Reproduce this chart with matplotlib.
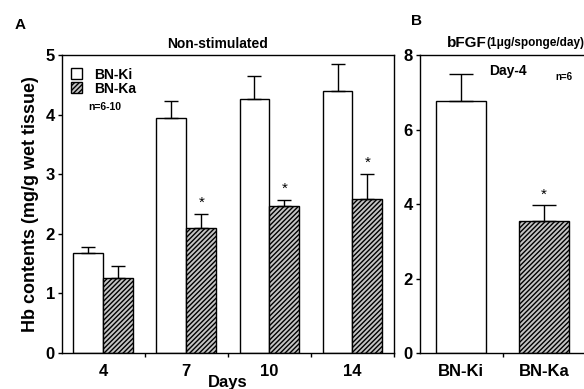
import numpy as np
import matplotlib
matplotlib.use('Agg')
from matplotlib import pyplot as plt

plt.rcParams['font.family'] = ['Liberation Sans', 'DejaVu Sans']
plt.rcParams['font.weight'] = 'bold'
plt.rcParams['axes.titleweight'] = 'bold'
plt.rcParams['axes.labelweight'] = 'bold'
plt.rcParams['hatch.linewidth'] = 1.0

# panel A: non-stimulated, by day
days = ['4', '7', '10', '14']
ki_vals = [1.68, 3.95, 4.26, 4.40]
ki_err = [0.10, 0.28, 0.39, 0.45]
ka_vals = [1.26, 2.10, 2.47, 2.58]
ka_err = [0.20, 0.24, 0.10, 0.43]
ka_star = [False, True, True, True]

# panel B: bFGF day-4
b_labels = ['BN-Ki', 'BN-Ka']
b_vals = [6.77, 3.55]
b_err = [0.73, 0.42]
b_star = [False, True]

fig = plt.figure(figsize=(5.84, 3.89), dpi=100)
ax_a = fig.add_axes([0.1057, 0.0925, 0.569, 0.766])
ax_b = fig.add_axes([0.719, 0.0925, 0.283, 0.766])

x = np.arange(len(days))
w = 0.36
ax_a.bar(x - w / 2, ki_vals, w, color='white', edgecolor='black', lw=1,
         yerr=[np.zeros(4), ki_err], capsize=5, error_kw=dict(lw=1, capthick=1),
         label='BN-Ki')
ax_a.bar(x + w / 2, ka_vals, w, color='#c4c4c4', edgecolor='black', lw=1, hatch='///////',
         yerr=[np.zeros(4), ka_err], capsize=5, error_kw=dict(lw=1, capthick=1),
         label='BN-Ka')
for i in range(len(days)):
    if ka_star[i]:
        ax_a.text(x[i] + w / 2, ka_vals[i] + ka_err[i] + 0.07, '*', ha='center',
                  va='bottom', fontsize=11, fontweight='normal')

ax_a.set_xlim(-0.5, 3.5)
ax_a.set_ylim(0, 5)
ax_a.set_yticks([0, 1, 2, 3, 4, 5])
ax_a.set_xticks(x + 0.5)
ax_a.set_xticklabels([])
ax_a.set_xticks(x, minor=True)
ax_a.set_xticklabels(days, minor=True)
ax_a.tick_params(axis='x', which='minor', length=0, pad=8, labelsize=12)
ax_a.tick_params(axis='x', which='major', length=3, width=1)
ax_a.tick_params(axis='y', length=3, width=1, pad=2, labelsize=12)
ax_a.set_ylabel('Hb contents (mg/g wet tissue)', fontsize=13, labelpad=5)
ax_a.set_xlabel('Days', fontsize=12, labelpad=-3)
ax_a.set_title('Non-stimulated', fontsize=10, pad=5, x=0.47)
leg = ax_a.legend(loc='upper left', bbox_to_anchor=(-0.01, 1.0), frameon=False,
                  fontsize=10, handlelength=0.8, handleheight=0.8, handletextpad=0.9,
                  labelspacing=0.0, borderaxespad=0.5)
ax_a.text(0.08, 0.825, 'n=6-10', transform=ax_a.transAxes, fontsize=7.5, va='center')

xb = np.arange(len(b_labels))
wb = 0.61
ax_b.bar(xb[0], b_vals[0], wb, color='white', edgecolor='black', lw=1,
         yerr=[[0], [b_err[0]]], capsize=8.5, error_kw=dict(lw=1, capthick=1))
ax_b.bar(xb[1], b_vals[1], wb, color='#c4c4c4', edgecolor='black', lw=1, hatch='///////',
         yerr=[[0], [b_err[1]]], capsize=8.5, error_kw=dict(lw=1, capthick=1))
for i in range(len(b_labels)):
    if b_star[i]:
        ax_b.text(xb[i], b_vals[i] + b_err[i] + 0.1, '*', ha='center', va='bottom',
                  fontsize=11, fontweight='normal')
ax_b.set_xlim(-0.5, 1.5)
ax_b.set_ylim(0, 8)
ax_b.set_yticks([0, 2, 4, 6, 8])
ax_b.set_xticks([0.5])
ax_b.set_xticklabels([])
ax_b.set_xticks(xb, minor=True)
ax_b.set_xticklabels(b_labels, minor=True)
ax_b.tick_params(axis='x', which='minor', length=0, pad=8, labelsize=12)
ax_b.tick_params(axis='x', which='major', length=3, width=1)
ax_b.tick_params(axis='y', length=3, width=1, pad=2, labelsize=12)
ax_b.text(0.53, 0.945, 'Day-4', transform=ax_b.transAxes, ha='center', va='center',
          fontsize=10)
ax_b.text(0.87, 0.925, 'n=6', transform=ax_b.transAxes, ha='center', va='center',
          fontsize=7)

for ax in (ax_a, ax_b):
    for s in ax.spines.values():
        s.set_linewidth(1)

# panel letters and the bFGF header
fig.text(20 / 584, 1 - 25 / 389, 'A', fontsize=11, ha='center', va='center')
fig.text(417 / 584, 1 - 21 / 389, 'B', fontsize=11, ha='center', va='center')
t1 = fig.text(447 / 584, 1 - 43 / 389, 'bFGF', fontsize=11, va='center')
fig.canvas.draw()
bb = t1.get_window_extent()
fig.text(bb.x1 / fig.bbox.width, 1 - 43 / 389, '(1μg/sponge/day)', fontsize=8.5,
         va='center')

fig.savefig('out.png', dpi=100)
